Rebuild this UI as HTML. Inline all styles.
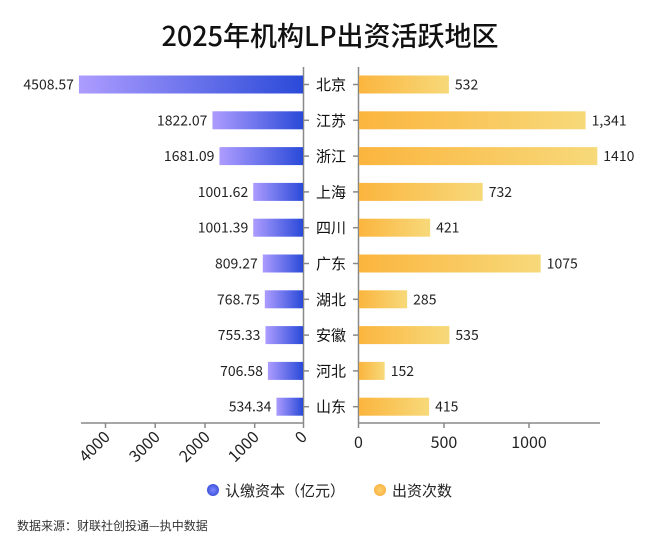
<!DOCTYPE html>
<html><head><meta charset="utf-8"><style>
html,body{margin:0;padding:0;background:#fff;}
svg{display:block;font-family:"Noto Sans CJK SC","Liberation Sans",sans-serif;}
</style></head><body>
<svg width="660" height="550" viewBox="0 0 660 550" xmlns="http://www.w3.org/2000/svg">
<defs>
<linearGradient id="gb" x1="0" x2="1" y1="0" y2="0"><stop offset="0" stop-color="#ad9cff"/><stop offset="1" stop-color="#2a4ad8"/></linearGradient>
<linearGradient id="go" x1="0" x2="1" y1="0" y2="0"><stop offset="0" stop-color="#fbb53e"/><stop offset="1" stop-color="#f7d97a"/></linearGradient>
<radialGradient id="lb"><stop offset="0" stop-color="#7d86ff"/><stop offset="1" stop-color="#3e55dc"/></radialGradient>
<radialGradient id="lo"><stop offset="0" stop-color="#fbd070"/><stop offset="1" stop-color="#f9b443"/></radialGradient>
</defs>
<text x="330" y="46" text-anchor="middle" font-size="27" fill="#111" font-weight="500">2025年机构LP出资活跃地区</text>
<g stroke="#888" stroke-width="1.5" fill="none">
<line x1="303.5" y1="67" x2="303.5" y2="423"/>
<line x1="358.5" y1="67" x2="358.5" y2="423"/>
<line x1="81" y1="423" x2="304" y2="423"/>
<line x1="358" y1="423" x2="600" y2="423"/>
<line x1="105.5" y1="423" x2="105.5" y2="428"/>
<line x1="155.2" y1="423" x2="155.2" y2="428"/>
<line x1="205" y1="423" x2="205" y2="428"/>
<line x1="254.7" y1="423" x2="254.7" y2="428"/>
<line x1="303.5" y1="423" x2="303.5" y2="428"/>
<line x1="358.5" y1="423" x2="358.5" y2="428"/>
<line x1="444" y1="423" x2="444" y2="428"/>
<line x1="529" y1="423" x2="529" y2="428"/>
</g>
<g font-size="16" fill="#222">
<text transform="translate(111,438) rotate(-45)" text-anchor="end">4000</text>
<text transform="translate(161,438) rotate(-45)" text-anchor="end">3000</text>
<text transform="translate(211,438) rotate(-45)" text-anchor="end">2000</text>
<text transform="translate(260,438) rotate(-45)" text-anchor="end">1000</text>
<text transform="translate(308,438) rotate(-45)" text-anchor="end">0</text>
<text x="358.5" y="448" text-anchor="middle">0</text>
<text x="444" y="448" text-anchor="middle">500</text>
<text x="529" y="448" text-anchor="middle">1000</text>
</g>
<g id="rows" font-size="14" fill="#222"></g>
<circle cx="213" cy="490" r="6" fill="url(#lb)"/>
<text x="225" y="496" font-size="15" fill="#222">认缴资本（亿元）</text>
<circle cx="380" cy="490" r="6" fill="url(#lo)"/>
<text x="392" y="496" font-size="15" fill="#222">出资次数</text>
<text x="17" y="530" font-size="12" fill="#333">数据来源：财联社创投通—执中数据</text>
</svg>
<script>
var d=[["北京",4508.57,"4508.57",532,"532"],["江苏",1822.07,"1822.07",1341,"1,341"],["浙江",1681.09,"1681.09",1410,"1410"],["上海",1001.62,"1001.62",732,"732"],["四川",1001.39,"1001.39",421,"421"],["广东",809.27,"809.27",1075,"1075"],["湖北",768.75,"768.75",285,"285"],["安徽",755.33,"755.33",535,"535"],["河北",706.58,"706.58",152,"152"],["山东",534.34,"534.34",415,"415"]];
var g=document.getElementById('rows'),s='';
d.forEach(function(r,i){var c=84.5+i*35.8;var w=r[1]*0.0497;var w2=r[3]*0.169;
s+='<rect x="'+(303-w)+'" y="'+(c-9)+'" width="'+w+'" height="18" fill="url(#gb)"/>';
s+='<text x="'+(298-w)+'" y="'+(c+5)+'" text-anchor="end">'+r[2]+'</text>';
s+='<rect x="359" y="'+(c-9)+'" width="'+w2+'" height="18" fill="url(#go)"/>';
s+='<text x="'+(365+w2)+'" y="'+(c+5)+'">'+r[4]+'</text>';
s+='<text x="331" y="'+(c+5.5)+'" text-anchor="middle" font-size="15" fill="#111">'+r[0]+'</text>';
s+='<line x1="303" x2="309" y1="'+c+'" y2="'+c+'" stroke="#888" stroke-width="1.5"/>';
s+='<line x1="353" x2="359" y1="'+c+'" y2="'+c+'" stroke="#888" stroke-width="1.5"/>';});
g.innerHTML=s;
</script>
</body></html>
